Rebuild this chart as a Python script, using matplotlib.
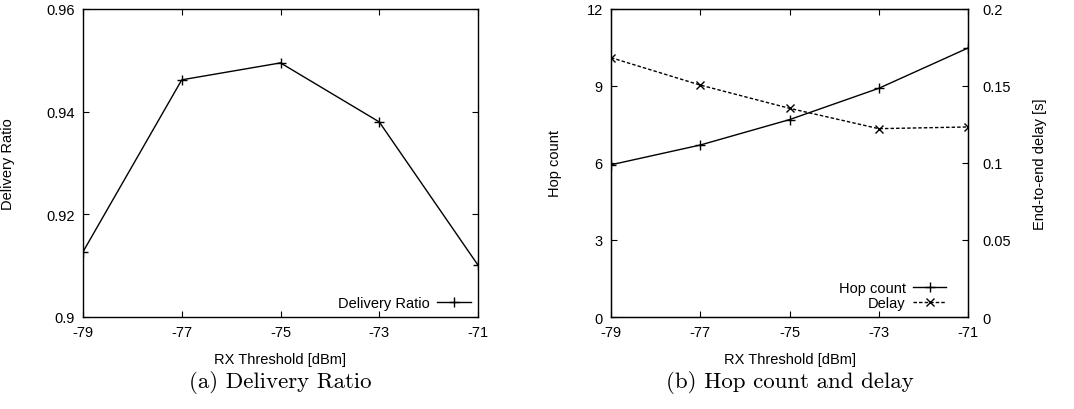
import matplotlib.pyplot as plt

plt.rcParams['font.family'] = ['Liberation Sans', 'DejaVu Sans']
plt.rcParams['axes.unicode_minus'] = False

rx = [-79, -77, -75, -73, -71]
delivery = [0.9127, 0.9462, 0.9495, 0.9380, 0.9101]
hops = [5.93, 6.70, 7.69, 8.91, 10.48]
delay = [0.1684, 0.1506, 0.1355, 0.1223, 0.1234]

fig = plt.figure(figsize=(10.74, 4.10), dpi=100)
W, H = 1074, 410

def box(x0, y0, x1, y1):
    return [x0 / W, 1 - y1 / H, (x1 - x0) / W, (y1 - y0) / H]

def style(ax, top=True, right=True):
    ax.tick_params(direction='in', length=4, width=0.8, labelsize=10.5,
                   top=top, right=right, pad=6)
    for s in ax.spines.values():
        s.set_linewidth(1.0)

# (a) delivery ratio
ax1 = fig.add_axes(box(83, 10, 478, 318))
ax1.plot(rx, delivery, color='black', lw=1.0, marker='+', ms=7, mew=1.0,
         label='Delivery Ratio')
ax1.set_xlim(-79, -71)
ax1.set_ylim(0.9, 0.96)
ax1.set_xticks(rx)
ax1.set_yticks([0.9, 0.92, 0.94, 0.96])
ax1.set_yticklabels(['0.9', '0.92', '0.94', '0.96'])
style(ax1)
ax1.set_xlabel('RX Threshold [dBm]', fontsize=10.5, labelpad=9)
ax1.set_ylabel('Delivery Ratio', fontsize=10.5)
ax1.yaxis.set_label_coords(-0.172, 0.5)
ax1.legend(loc='lower right', frameon=False, markerfirst=False, fontsize=10.5,
           handlelength=2.3, handletextpad=0.5, borderaxespad=0.1,
           bbox_to_anchor=(1.0, 0.0))

# (b) hop count and delay
ax2 = fig.add_axes(box(611, 10, 968, 318))
l1, = ax2.plot(rx, hops, color='black', lw=1.0, marker='+', ms=7, mew=1.0,
               label='Hop count')
ax2.set_xlim(-79, -71)
ax2.set_ylim(0, 12)
ax2.set_xticks(rx)
ax2.set_yticks([0, 3, 6, 9, 12])
style(ax2, right=False)
ax2.set_xlabel('RX Threshold [dBm]', fontsize=10.5, labelpad=9)
ax2.set_ylabel('Hop count', fontsize=10.5)
ax2.yaxis.set_label_coords(-0.137, 0.5)

ax3 = ax2.twinx()
l2, = ax3.plot(rx, delay, color='black', lw=1.0, ls=(0, (2.5, 1.5)), marker='x',
               ms=6, mew=1.0, label='Delay')
ax3.set_ylim(0, 0.2)
ax3.set_yticks([0, 0.05, 0.1, 0.15, 0.2])
ax3.set_yticklabels(['0', '0.05', '0.1', '0.15', '0.2'])
ax3.tick_params(direction='in', length=4, width=0.8, labelsize=10.5, pad=10)
ax3.set_ylabel('End-to-end delay [s]', fontsize=10.5)
ax3.yaxis.set_label_coords(1.182, 0.5)
ax3.legend([l1, l2], ['Hop count', 'Delay'], loc='lower right', frameon=False,
           markerfirst=False, fontsize=10.5, handlelength=2.3,
           handletextpad=0.5, borderaxespad=0.1, labelspacing=0.05,
           bbox_to_anchor=(0.96, 0.0))

fig.text(280 / W, 1 - 383 / H, '(a) Delivery Ratio', ha='center', va='center',
         fontsize=16.5, family='cmr10')
fig.text(790 / W, 1 - 383 / H, '(b) Hop count and delay', ha='center',
         va='center', fontsize=16.5, family='cmr10')

fig.savefig('out.png', dpi=100)
